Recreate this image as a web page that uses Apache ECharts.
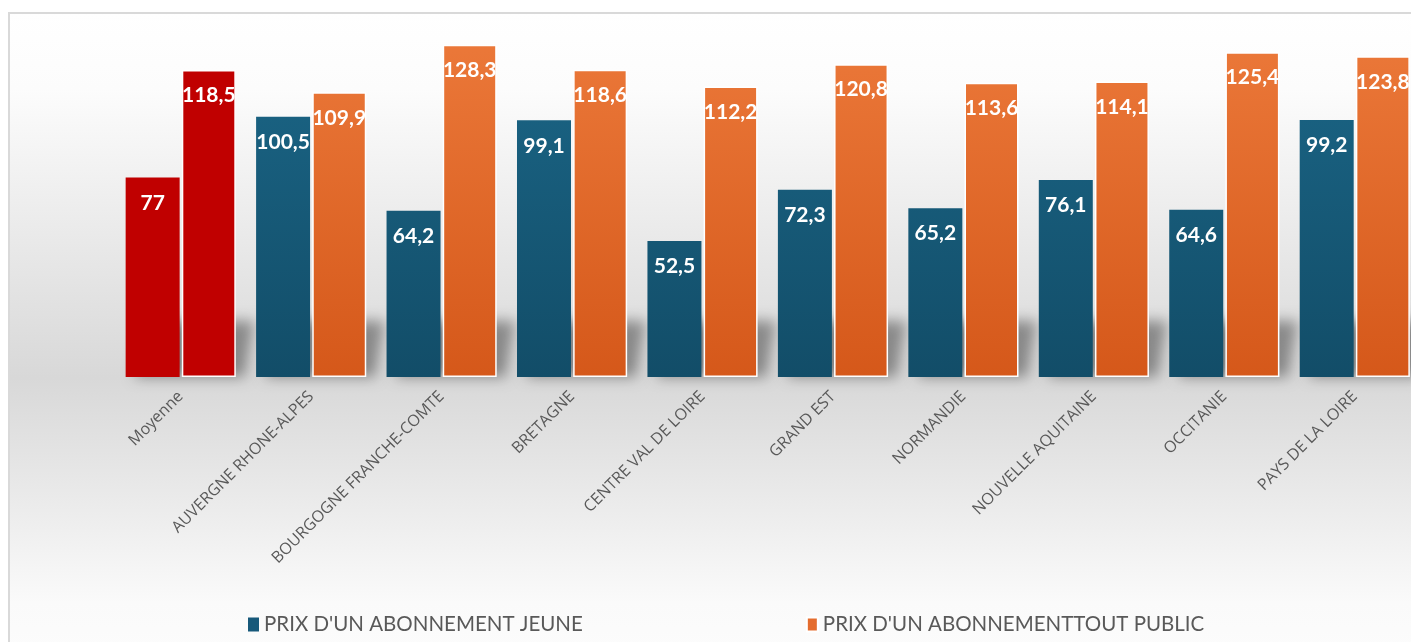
<!DOCTYPE html>
<html>
<head>
<meta charset="utf-8">
<script src="https://cdn.jsdelivr.net/npm/echarts@6/dist/echarts.min.js"></script>
<style>
  html, body { margin: 0; padding: 0; background: #ffffff; overflow: hidden; }
  /* the plot runs slightly past the right edge of the window */
  #chart { width: 1430px; height: 642px; }
</style>
</head>
<body>
<div id="chart"></div>
<script>
// Régions et prix annuels des abonnements
const regions = [
  'Moyenne', 'AUVERGNE RHONE-ALPES', 'BOURGOGNE FRANCHE-COMTE', 'BRETAGNE',
  'CENTRE VAL DE LOIRE', 'GRAND EST', 'NORMANDIE', 'NOUVELLE AQUITAINE',
  'OCCITANIE', 'PAYS DE LA LOIRE'
];
const prixJeune = [77, 100.5, 64.2, 99.1, 52.5, 72.3, 65.2, 76.1, 64.6, 99.2];
const prixToutPublic = [118.5, 109.9, 128.3, 118.6, 112.2, 120.8, 113.6, 114.1, 125.4, 123.8];
const serieNames = ["PRIX D'UN ABONNEMENT JEUNE", "PRIX D'UN ABONNEMENTTOUT PUBLIC"];

const RED = '#c00000';
const blueFill = new echarts.graphic.LinearGradient(0, 40, 0, 377, [
  { offset: 0, color: '#1b6687' },
  { offset: 1, color: '#124d68' }
], true);
const orangeFill = new echarts.graphic.LinearGradient(0, 40, 0, 377, [
  { offset: 0, color: '#eb7839' },
  { offset: 1, color: '#d5581a' }
], true);

// la catégorie « Moyenne » est mise en évidence en rouge
function withHighlight(values) {
  return values.map((v, i) => i === 0 ? { value: v, itemStyle: { color: RED } } : v);
}

const fmt = p => String(p.value).replace('.', ',');

const valueLabel = {
  show: true, position: 'insideTop', distance: 15,
  color: '#ffffff', fontSize: 21, fontWeight: 'bold', fontFamily: 'Lato',
  formatter: fmt
};

// Ombre portée en perspective au pied de chaque paire de barres :
// la forme est dessinée hors champ, seule son ombre floue est visible.
const SHIFT = 4000;
function renderShadow(params, api) {
  const base = api.coord([api.value(0), 0]);
  const band = api.size([1, 0])[0];
  const half = band * 0.42;
  const h = 56, skew = 10;
  const L = base[0] - half, R = base[0] + half;
  return {
    type: 'polygon',
    shape: {
      points: [
        [L - SHIFT, base[1]], [R - SHIFT, base[1]],
        [R + skew - SHIFT, base[1] - h], [L + skew - SHIFT, base[1] - h]
      ]
    },
    style: {
      fill: '#000',
      shadowColor: 'rgba(0,0,0,0.38)',
      shadowBlur: 14,
      shadowOffsetX: SHIFT + 9,
      shadowOffsetY: 0
    },
    silent: true
  };
}

const chart = echarts.init(document.getElementById('chart'), null, { renderer: 'canvas' });
chart.setOption({
  animation: false,
  backgroundColor: '#ffffff',
  graphic: [{
    type: 'rect',
    z: -10,
    silent: true,
    shape: { x: 9, y: 13, width: 1440, height: 640 },
    style: {
      fill: new echarts.graphic.LinearGradient(0, 0, 0, 1, [
        { offset: 0, color: '#ffffff' },
        { offset: 0.12, color: '#fcfcfc' },
        { offset: 0.57, color: '#d8d8d8' },
        { offset: 0.92, color: '#fafafa' },
        { offset: 1, color: '#fcfcfc' }
      ]),
      stroke: '#d9d9d9',
      lineWidth: 2
    }
  }],
  grid: { left: 115.5, right: 10, top: 40.3, bottom: 265 },
  legend: {
    left: 243,
    top: 609,
    itemWidth: 11,
    itemHeight: 14,
    itemGap: 223,
    icon: 'rect',
    textStyle: { color: '#595959', fontSize: 20.5, fontFamily: 'Lato' },
    data: [
      { name: serieNames[0], itemStyle: { color: '#17597a' } },
      { name: serieNames[1], itemStyle: { color: '#e46c2e' } }
    ]
  },
  xAxis: {
    type: 'category',
    data: regions,
    axisLine: { show: false },
    axisTick: { show: false },
    axisLabel: {
      rotate: 45,
      interval: 0,
      margin: 17,
      color: '#595959',
      fontSize: 16,
      fontFamily: 'Open Sans'
    }
  },
  yAxis: {
    type: 'value',
    min: 0,
    max: 130,
    show: false,
    splitLine: { show: false }
  },
  series: [
    {
      name: 'ombre',
      type: 'custom',
      z: 1,
      clip: false,
      silent: true,
      renderItem: renderShadow,
      data: regions.map((r, i) => [i, prixToutPublic[i]])
    },
    {
      name: serieNames[0],
      type: 'bar',
      z: 2,
      data: withHighlight(prixJeune),
      barWidth: 54,
      barGap: '4%',
      itemStyle: { color: blueFill },
      label: valueLabel
    },
    {
      name: serieNames[1],
      type: 'bar',
      z: 2,
      data: withHighlight(prixToutPublic),
      barWidth: 54,
      itemStyle: { color: orangeFill, borderColor: '#ffffff', borderWidth: 1.5 },
      label: valueLabel
    }
  ]
});
</script>
</body>
</html>
